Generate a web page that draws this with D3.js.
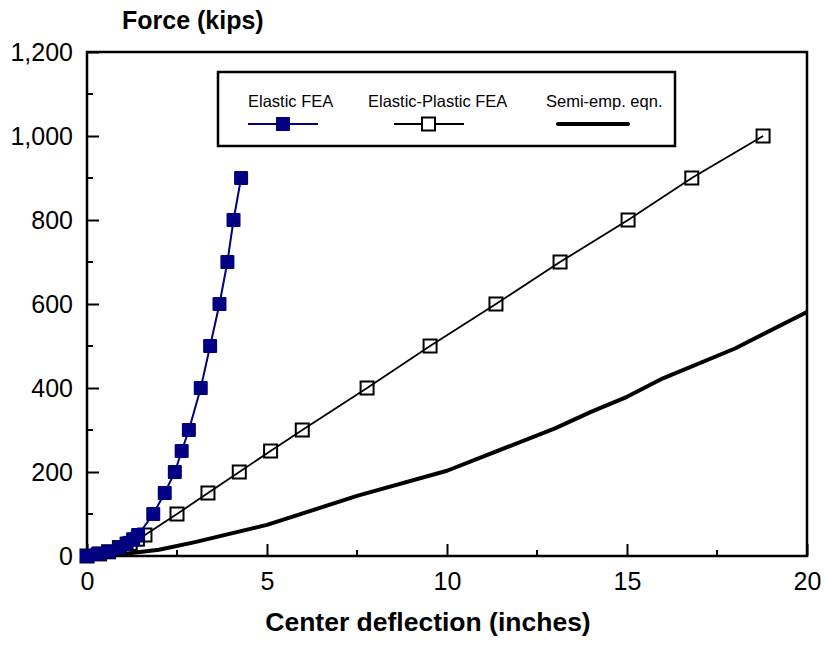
<!DOCTYPE html>
<html>
<head>
<meta charset="utf-8">
<script src="https://cdnjs.cloudflare.com/ajax/libs/d3/7.8.5/d3.min.js"></script>
<style>
  body { margin: 0; background: #fff; }
  svg { display: block; font-family: "Liberation Sans", Arial, sans-serif; }
</style>
</head>
<body>
<div id="chart"></div>
<script>
const WIDTH = 825,
  HEIGHT = 648,
  NAVY = "#000080";

// Elastic FEA (filled squares)
const elasticX = [0, 0.3, 0.6, 0.9, 1.1, 1.28, 1.42, 1.84, 2.16, 2.44, 2.63, 2.83, 3.16, 3.42, 3.68, 3.9, 4.07, 4.28];
const elasticY = [0, 5, 10, 20, 30, 40, 50, 100, 150, 200, 250, 300, 400, 500, 600, 700, 800, 900];

// Elastic-Plastic FEA (open squares)
const plasticX = [0, 0.35, 0.6, 0.9, 1.2, 1.4, 1.61, 2.5, 3.36, 4.23, 5.1, 5.98, 7.78, 9.53, 11.36, 13.14, 15.03, 16.8, 18.78];
const plasticY = [0, 5, 10, 20, 30, 40, 50, 100, 150, 200, 250, 300, 400, 500, 600, 700, 800, 900, 1000];

// Semi-empirical equation (thick line)
const semiX = [0, 1, 2, 3, 5, 7.5, 10, 13, 14, 15, 16, 18, 20];
const semiY = [0, 5, 15, 33, 74, 143, 203, 304, 343, 379, 423, 494, 581];

const xTicks = [0, 5, 10, 15, 20],
  xMinor = [2.5, 7.5, 12.5, 17.5],
  yTicks = [0, 200, 400, 600, 800, 1000, 1200],
  yMinor = [100, 300, 500, 700, 900, 1100];

const legendItems = [
  { name: "Elastic FEA", kind: "filled" },
  { name: "Elastic-Plastic FEA", kind: "open" },
  { name: "Semi-emp. eqn.", kind: "thick" }
];

const margin = { left: 87, right: 18, top: 52, bottom: 92 };

const svg = d3.select("#chart").append("svg")
  .attr("width", WIDTH)
  .attr("height", HEIGHT);

const x = d3.scaleLinear().domain([0, 20]).range([margin.left, WIDTH - margin.right]),
  y = d3.scaleLinear().domain([0, 1200]).range([HEIGHT - margin.bottom, margin.top]);

// ticks (inward)
const xAxis = svg.append("g")
  .attr("transform", `translate(0,${y(0)})`)
  .call(d3.axisBottom(x).tickValues(xTicks).tickSize(-12).tickPadding(16).tickFormat(d3.format("d")));
xAxis.append("g").selectAll("line").data(xMinor).enter().append("line")
  .attr("x1", d => x(d)).attr("x2", d => x(d)).attr("y1", 0).attr("y2", -6)
  .attr("stroke", "#000");

const yAxis = svg.append("g")
  .attr("transform", `translate(${x(0)},0)`)
  .call(d3.axisLeft(y).tickValues(yTicks).tickSize(-12).tickPadding(14).tickFormat(d3.format(",")));
yAxis.append("g").selectAll("line").data(yMinor).enter().append("line")
  .attr("y1", d => y(d)).attr("y2", d => y(d)).attr("x1", 0).attr("x2", 6)
  .attr("stroke", "#000");

svg.selectAll(".domain").remove();
svg.selectAll(".tick line").attr("stroke", "#000").attr("stroke-width", 2);
xAxis.selectAll("g line").attr("stroke-width", 2);
yAxis.selectAll("g line").attr("stroke-width", 2);
svg.selectAll(".tick text")
  .attr("font-family", "Liberation Sans, Arial, sans-serif")
  .attr("font-size", 25)
  .attr("fill", "#000");

// frame
svg.append("rect")
  .attr("x", x(0)).attr("y", y(1200))
  .attr("width", x(20) - x(0)).attr("height", y(0) - y(1200))
  .attr("fill", "none").attr("stroke", "#000").attr("stroke-width", 2.5);

const semiData = semiX.map((d, i) => [d, semiY[i]]),
  plasticData = plasticX.map((d, i) => [d, plasticY[i]]),
  elasticData = elasticX.map((d, i) => [d, elasticY[i]]);

const line = d3.line().x(d => x(d[0])).y(d => y(d[1]));

// semi-empirical line
svg.append("path").datum(semiData)
  .attr("d", line).attr("fill", "none")
  .attr("stroke", "#000").attr("stroke-width", 4).attr("stroke-linejoin", "round");

svg.append("path").datum(plasticData)
  .attr("d", line).attr("fill", "none")
  .attr("stroke", "#000").attr("stroke-width", 1.8);

svg.append("g").selectAll("rect").data(plasticData).enter().append("rect")
  .attr("x", d => x(d[0]) - 6.5).attr("y", d => y(d[1]) - 6.5)
  .attr("width", 13).attr("height", 13)
  .attr("fill", "none").attr("stroke", "#000").attr("stroke-width", 2);

svg.append("path").datum(elasticData)
  .attr("d", line).attr("fill", "none")
  .attr("stroke", NAVY).attr("stroke-width", 2);

svg.append("g").selectAll("rect").data(elasticData).enter().append("rect")
  .attr("x", d => x(d[0]) - 7).attr("y", d => y(d[1]) - 7)
  .attr("width", 14).attr("height", 14)
  .attr("rx", 1)
  .attr("fill", NAVY);

// legend
const legend = svg.append("g");
legend.append("rect")
  .attr("x", 218).attr("y", 72).attr("width", 457).attr("height", 74)
  .attr("fill", "#fff").attr("stroke", "#000").attr("stroke-width", 2.5);

const legTextX = [248, 368, 546],
  legLineX = [248, 394, 558];

legendItems.forEach((item, i) => {
  legend.append("text")
    .attr("x", legTextX[i]).attr("y", 107)
    .attr("font-size", 16.5)
    .attr("fill", "#000")
    .text(item.name);
  const lx = legLineX[i];
  legend.append("line")
    .attr("x1", lx).attr("x2", lx + 70).attr("y1", 124).attr("y2", 124)
    .attr("stroke", item.kind === "filled" ? NAVY : "#000")
    .attr("stroke-width", item.kind === "thick" ? 4 : 1.8)
    .attr("stroke-linecap", item.kind === "thick" ? "round" : "butt");
  if (item.kind === "filled") {
    legend.append("rect").attr("x", lx + 28).attr("y", 117).attr("width", 14).attr("height", 14)
      .attr("fill", NAVY);
  } else if (item.kind === "open") {
    legend.append("rect").attr("x", lx + 28).attr("y", 117.5).attr("width", 13).attr("height", 13)
      .attr("fill", "#fff").attr("stroke", "#000").attr("stroke-width", 2);
  }
});

// axis titles
svg.append("text")
  .attr("x", 428).attr("y", 631)
  .attr("text-anchor", "middle")
  .attr("font-size", 26.5).attr("font-weight", "bold")
  .text("Center deflection (inches)");

svg.append("text")
  .attr("x", 122).attr("y", 29)
  .attr("font-size", 25).attr("font-weight", "bold")
  .text("Force (kips)");
</script>
</body>
</html>
